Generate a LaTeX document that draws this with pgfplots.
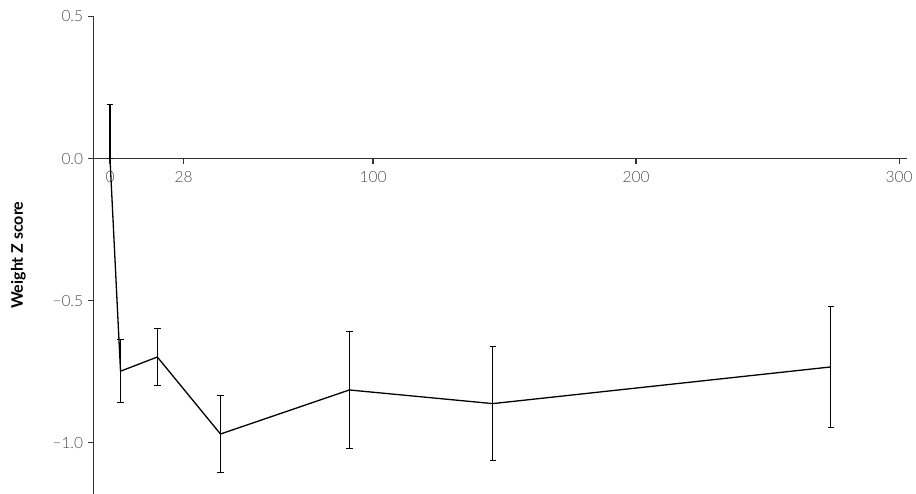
\documentclass[border=0pt]{standalone}
\usepackage{fontspec}
\setmainfont{Lato}
\newfontfamily\tickfont{Lato Light}
\usepackage{pgfplots}
\pgfplotsset{compat=1.18}
\usetikzlibrary{calc}
\definecolor{tickgray}{HTML}{505050}
\definecolor{axisgray}{HTML}{333333}
\begin{document}
\fontsize{15}{18}\selectfont
\begin{tikzpicture}
\begin{axis}[
  name=ax,
  scale only axis,
  width=813.7pt, height=477.5pt,
  xmin=-6.35, xmax=303,
  ymin=-1.18, ymax=0.5,
  axis x line*=middle,
  axis y line*=left,
  axis line style={axisgray, line width=1.2pt},
  tick style={axisgray, line width=1.2pt},
  tick align=outside,
  major tick length=5pt,
  xtick={0,28,100,200,300},
  xticklabels={0,28,100,200,300},
  ytick={-1,-0.5,0,0.5},
  yticklabels={−1.0,−0.5,0.0,0.5},
  ticklabel style={font=\fontsize{15.5}{18}\tickfont, text=tickgray},
  xticklabel style={yshift=-3pt},
  ylabel={Weight Z score},
  every axis y label/.style={at={(axis description cs:-0.092,0.5)}, rotate=90, anchor=center, font=\fontsize{16}{19}\selectfont\bfseries},
  clip=false,
]
\addplot[black, line width=1.3pt, mark=none,
  error bars/.cd, y dir=both, y explicit,
  error bar style={black, line width=1.2pt},
  error mark options={rotate=90, mark size=3.2pt, line width=1.2pt, black}]
  coordinates {
  (0,0) += (0,0.19) -= (0,0)
  (4,-0.748) +- (0,0.111)
  (18,-0.698) +- (0,0.10)
  (42,-0.969) +- (0,0.135)
  (91,-0.814) +- (0,0.205)
  (145.5,-0.862) +- (0,0.20)
  (274,-0.733) +- (0,0.213)
  };
\end{axis}
\pgfresetboundingbox
\path ($(ax.south west)+(-93.3pt,0)$) rectangle +(916pt,494pt);
\end{tikzpicture}
\end{document}
